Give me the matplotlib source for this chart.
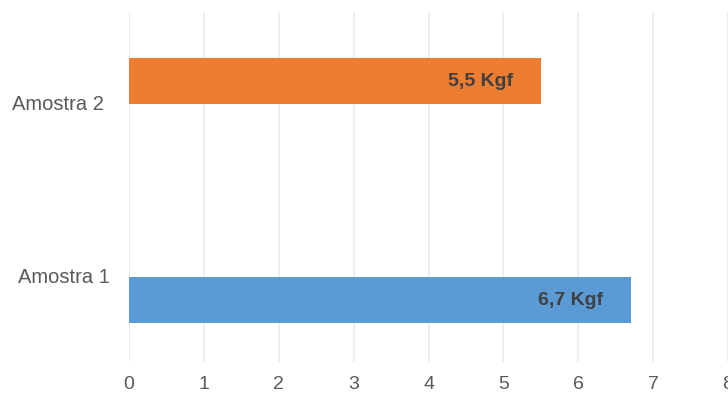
import matplotlib.pyplot as plt
from matplotlib import transforms

# dados
amostras = ['Amostra 1', 'Amostra 2']
forca = [6.7, 5.5]
rotulos = ['6,7 Kgf', '5,5 Kgf']
cores = ['#5B9BD5', '#ED7D31']
xticks = [0, 1, 2, 3, 4, 5, 6, 7, 8]

plt.rcParams['font.family'] = ['Liberation Sans', 'DejaVu Sans']

fig = plt.figure(figsize=(7.28, 3.96), dpi=100)
ax = fig.add_axes([129 / 728, 34 / 396, 599 / 728, 350 / 396])

pos = list(range(len(amostras)))
ax.barh(pos, forca, height=0.21, color=cores, zorder=2)

ax.set_xlim(0, 8)
ax.set_ylim(-0.285, 1.313)
ax.set_xticks(xticks)
ax.set_xticklabels([str(t) for t in xticks], color='#595959', fontsize=14)
ax.tick_params(axis='x', length=0, pad=10)
ax.set_yticks([])
ax.grid(axis='x', color='#ebebeb', linewidth=1.2, zorder=0)
for s in ax.spines.values():
    s.set_visible(False)

# rótulos das categorias
trans = transforms.blended_transform_factory(fig.transFigure, ax.transData)
desloc = [0.10, -0.11]
centros = [64 / 728, 58 / 728]
for i, nome in enumerate(amostras):
    ax.text(centros[i], pos[i] + desloc[i], nome, transform=trans,
            ha='center', va='center', fontsize=14.5, color='#595959')

# rótulos dos valores
for i, (v, r) in enumerate(zip(forca, rotulos)):
    ax.annotate(r, xy=(v, pos[i]), xytext=(-20, -1), textcoords='offset points',
                ha='right', va='center', fontsize=14, fontweight='bold',
                color='#404040', zorder=3)

fig.savefig('out.png', dpi=100)
